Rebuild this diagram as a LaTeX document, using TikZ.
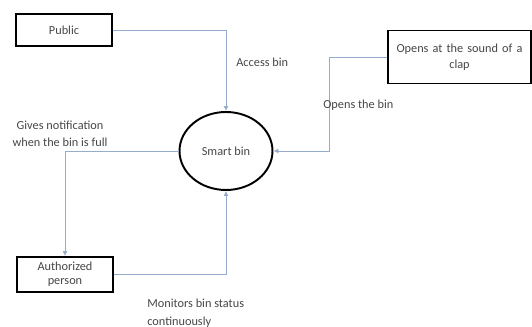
\documentclass[tikz,border=0pt]{standalone}
\usepackage{fontspec}
\setmainfont{Carlito}
\usepackage{tikz}
\usetikzlibrary{shapes.geometric}
\usetikzlibrary{arrows.meta}
\usepackage{xcolor}
\definecolor{ColLine}{RGB}{150,172,205}
\definecolor{ColText}{RGB}{70,70,70}
\tikzstyle{BoxNode}=[rectangle,draw=black,line width=1.1pt,inner sep=0pt,text=ColText,
font=\fontsize{7}{9}\selectfont,align=center]
\tikzstyle{BinNode}=[ellipse,draw=black,line width=1.1pt,inner sep=0pt,minimum width=1.86cm,
minimum height=1.56cm,text=ColText,font=\fontsize{7}{9}\selectfont]
\tikzstyle{FlowEdge}=[ColLine,line width=0.5pt,-{Latex[length=1mm,width=1mm]}]
\tikzstyle{FlowLabel}=[text=ColText,inner sep=0pt,font=\fontsize{7}{10}\selectfont]

\begin{document}
\begin{tikzpicture}[x=0.02cm,y=-0.02cm]
        \useasboundingbox(0,0)rectangle(532,327);
        \node[BoxNode,minimum width=1.92cm,minimum height=0.64cm](public)at(64,30){Public};
        \node[BoxNode,minimum width=2.86cm,minimum height=1.06cm,text width=2.8cm](clap)at(459.5,57){Opens at the sound of a\\clap};
        \node[BinNode](bin)at(226,151){Smart bin};
        \node[BoxNode,minimum width=1.92cm,minimum height=0.7cm,text width=1.5cm,
        font=\fontsize{7}{8}\selectfont](auth)at(65,274.5){Authorized\\person};
        \coordinate(bend)at(329,57);
        \draw[FlowEdge](public.east)-|(bin.north);
        \draw[FlowEdge](clap.west)--(bend)|-(bin.east);
        \draw[FlowEdge](bin.west)-|(auth.north);
        \draw[FlowEdge](auth.east)-|(bin.south);
        \node[FlowLabel,anchor=west](access)at(236,62){Access bin};
        \node[FlowLabel,anchor=west](opens)at(323,105){Opens the bin};
        \node[FlowLabel,align=center](gives)at(60,134){Gives notification\\when the bin is full};
        \node[FlowLabel,align=left,anchor=west](monitors)at(147,313){Monitors bin status\\continuously};
    \end{tikzpicture}
\end{document}
